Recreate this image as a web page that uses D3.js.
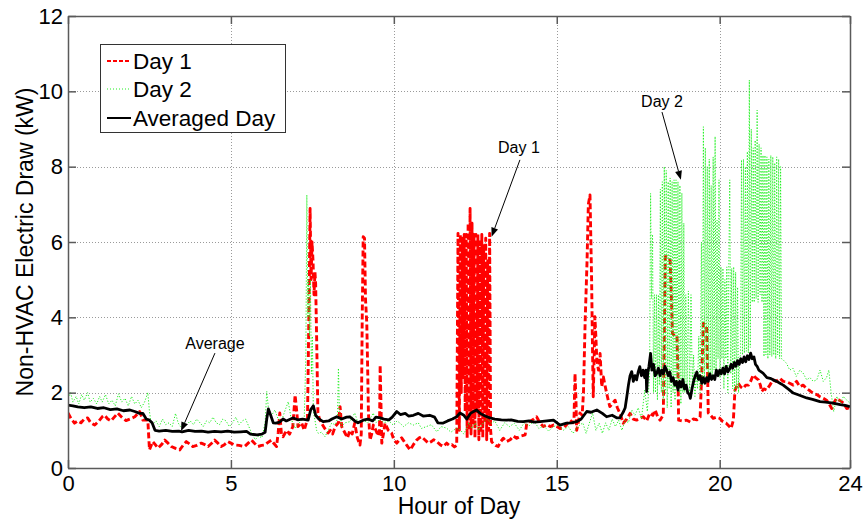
<!DOCTYPE html>
<html>
<head>
<meta charset="utf-8">
<script src="https://cdn.jsdelivr.net/npm/d3@7/dist/d3.min.js"></script>
<style>
  html, body { margin: 0; padding: 0; background: #fff; }
  svg { display: block; font-family: "Liberation Sans", Arial, sans-serif; }
</style>
</head>
<body>
<svg id="chart" width="866" height="522"></svg>
<script>
// Axis ticks
const xTicks = [0, 5, 10, 15, 20, 24];
const yTicks = [0, 2, 4, 6, 8, 10, 12];
const seriesNames = ["Day 1", "Day 2", "Averaged Day"];

// Day 1 non-HVAC draw, [hour, kW]
const day1 = [
  [0,1.46],[0.1,1.3],[0.2,1.19],[0.3,1.25],[0.4,1.2],[0.5,1.3],[0.6,1.33],[0.7,1.2],[0.82,1.14],[0.95,1.25],
  [1.05,1.36],[1.12,1.4],[1.22,1.3],[1.32,1.25],[1.42,1.35],[1.53,1.46],[1.65,1.35],[1.78,1.26],[1.9,1.3],[2.05,1.36],
  [2.2,1.5],[2.3,1.27],[2.45,1.27],[2.5,0.48],[2.6,0.7],[2.68,0.62],[2.76,0.53],[2.87,0.62],[2.97,0.74],[3.07,0.66],
  [3.17,0.57],[3.3,0.52],[3.43,0.48],[3.53,0.6],[3.63,0.7],[3.73,0.64],[3.83,0.57],[3.95,0.6],[4.09,0.66],[4.2,0.62],
  [4.3,0.57],[4.4,0.65],[4.5,0.74],[4.6,0.66],[4.7,0.57],[4.8,0.62],[4.91,0.7],[5.0,0.66],[5.11,0.61],[5.25,0.6],
  [5.42,0.57],[5.53,0.66],[5.63,0.74],[5.73,0.65],[5.83,0.57],[5.94,0.6],[6.04,0.61],[6.14,0.68],[6.24,0.74],[6.32,0.65],
  [6.4,0.57],[6.45,0.93],[6.5,1.46],[6.55,0.9],[6.6,0.83],[6.71,1.0],[6.8,0.9],[6.9,1.1],[6.97,1.94],[7.02,1.5],
  [7.06,1.1],[7.17,1.2],[7.25,1.0],[7.35,1.3],[7.4,4.5],[7.43,6.89],[7.46,5.0],[7.49,6.0],[7.52,5.5],[7.55,4.6],
  [7.58,5.2],[7.6,4.9],[7.63,3.5],[7.67,1.46],[7.72,1.3],[7.78,1.19],[7.88,1.05],[7.98,0.93],[8.05,1.0],[8.12,0.9],
  [8.2,1.1],[8.3,1.2],[8.35,1.63],[8.4,1.1],[8.5,0.93],[8.58,0.8],[8.65,1.0],[8.72,0.9],[8.8,1.19],[8.88,0.8],
  [8.96,0.61],[9.0,0.9],[9.03,4.0],[9.06,6.14],[9.1,6.1],[9.13,4.5],[9.17,3.84],[9.2,2.5],[9.22,1.46],[9.27,0.74],
  [9.32,0.9],[9.37,1.14],[9.45,1.0],[9.52,0.85],[9.56,1.0],[9.58,2.73],[9.61,1.5],[9.63,0.66],[9.68,0.9],[9.73,1.19],
  [9.83,1.0],[9.93,0.93],[10.0,0.75],[10.09,0.66],[10.17,0.75],[10.24,0.8],[10.32,0.7],[10.4,0.6],[10.5,0.48],[10.6,0.62],
  [10.7,0.74],[10.78,0.8],[10.85,0.83],[10.95,0.75],[11.06,0.66],[11.15,0.7],[11.22,0.75],[11.32,0.7],[11.42,0.62],[11.52,0.57],
  [11.62,0.66],[11.7,0.6],[11.78,0.62],[11.86,0.56],[11.93,0.6],[11.97,6.23],[12.01,1.0],[12.04,6.2],[12.07,2.0],[12.1,6.1],
  [12.13,2.4],[12.16,6.2],[12.19,1.5],[12.22,6.2],[12.25,0.8],[12.28,6.5],[12.31,1.0],[12.34,6.89],[12.37,0.9],[12.4,6.5],
  [12.43,1.2],[12.46,6.2],[12.49,0.8],[12.52,6.2],[12.55,1.5],[12.58,6.2],[12.61,0.75],[12.64,6.0],[12.67,1.0],[12.7,6.2],
  [12.73,0.8],[12.76,5.9],[12.79,1.2],[12.82,6.1],[12.85,0.75],[12.88,5.5],[12.91,1.0],[12.94,6.23],[12.97,1.0],[13.0,0.7],
  [13.05,0.65],[13.12,0.6],[13.2,0.57],[13.28,0.7],[13.36,0.79],[13.45,0.7],[13.57,0.75],[13.67,0.85],[13.77,0.79],[13.9,0.85],
  [14.03,0.88],[14.08,1.19],[14.2,1.25],[14.3,1.3],[14.38,1.36],[14.48,1.2],[14.59,1.1],[14.7,1.15],[14.8,1.1],[14.9,1.14],
  [15.0,1.1],[15.1,1.05],[15.2,1.06],[15.3,1.15],[15.41,1.27],[15.5,1.2],[15.53,1.3],[15.56,2.51],[15.59,1.8],[15.61,1.0],
  [15.66,1.2],[15.71,1.46],[15.78,1.4],[15.82,2.0],[15.87,3.84],[15.93,5.5],[15.97,7.0],[16.02,7.25],[16.07,4.99],[16.1,3.0],
  [16.12,1.89],[16.15,3.0],[16.17,4.02],[16.2,3.5],[16.23,2.87],[16.28,2.6],[16.33,3.04],[16.38,2.16],[16.43,2.42],[16.48,2.2],
  [16.53,1.99],[16.58,1.8],[16.63,1.63],[16.7,1.7],[16.79,1.8],[16.86,1.6],[16.94,1.45],[17.04,1.19],[17.15,1.3],[17.25,1.45],
  [17.35,1.3],[17.45,1.27],[17.55,1.32],[17.66,1.36],[17.76,1.25],[17.86,1.46],[17.95,1.4],[18.02,1.54],[18.1,1.35],[18.17,1.27],
  [18.27,1.41],[18.3,3.5],[18.33,5.61],[18.4,5.61],[18.45,5.55],[18.48,5.52],[18.52,4.5],[18.55,3.58],[18.62,3.5],[18.69,3.5],
  [18.72,2.5],[18.74,1.27],[18.85,1.25],[18.99,1.27],[19.1,1.22],[19.19,1.3],[19.3,1.28],[19.4,1.35],[19.45,2.5],[19.5,3.84],
  [19.56,3.8],[19.6,3.75],[19.63,2.5],[19.65,1.46],[19.72,1.4],[19.8,1.32],[19.9,1.35],[20.0,1.32],[20.1,1.23],[20.2,1.19],
  [20.3,1.1],[20.35,1.05],[20.42,1.27],[20.47,2.07],[20.57,2.25],[20.65,2.15],[20.72,2.11],[20.8,2.2],[20.88,2.2],[20.95,2.3],
  [21.03,2.47],[21.1,2.4],[21.19,2.34],[21.25,2.2],[21.29,2.03],[21.36,2.1],[21.44,2.07],[21.54,2.2],[21.64,2.34],[21.74,2.3],
  [21.85,2.38],[21.95,2.3],[22.05,2.29],[22.15,2.25],[22.26,2.2],[22.36,2.3],[22.46,2.16],[22.56,2.2],[22.67,2.11],[22.77,2.05],
  [22.87,1.98],[22.98,1.95],[23.08,1.89],[23.18,1.85],[23.28,1.8],[23.36,1.7],[23.44,1.58],[23.52,1.75],[23.59,1.85],[23.67,1.8],
  [23.75,1.76],[23.82,1.7],[23.9,1.58],[24.0,1.6]
];

// Day 2 non-HVAC draw, [hour, kW]
const day2 = [
  [0,1.85],[0.08,2.0],[0.15,1.75],[0.25,1.9],[0.33,1.7],[0.42,1.95],[0.5,1.8],[0.6,2.0],[0.68,1.75],[0.78,1.85],
  [0.88,1.7],[0.97,1.9],[1.05,1.75],[1.15,1.95],[1.25,1.7],[1.35,1.8],[1.45,1.65],[1.55,1.97],[1.65,1.75],[1.75,1.85],
  [1.85,1.65],[1.95,1.9],[2.05,1.7],[2.15,1.8],[2.25,1.6],[2.35,1.75],[2.45,2.0],[2.5,1.5],[2.55,1.2],[2.6,1.15],
  [2.7,1.25],[2.8,1.1],[2.9,1.3],[3.0,1.15],[3.1,1.2],[3.2,1.1],[3.3,1.45],[3.38,1.2],[3.45,1.1],[3.55,1.2],
  [3.65,1.15],[3.75,1.25],[3.85,1.15],[3.95,1.3],[4.05,1.2],[4.15,1.1],[4.25,1.25],[4.35,1.2],[4.45,1.35],[4.55,1.2],
  [4.65,1.15],[4.75,1.3],[4.85,1.25],[4.95,1.1],[5.05,1.2],[5.15,1.35],[5.25,1.15],[5.35,1.25],[5.45,1.3],[5.55,1.1],
  [5.65,0.9],[5.75,0.75],[5.85,0.85],[5.95,0.8],[6.05,1.2],[6.1,2.03],[6.15,1.6],[6.25,1.4],[6.35,1.54],[6.45,1.3],
  [6.56,1.27],[6.65,1.5],[6.76,1.76],[6.85,1.3],[6.97,1.05],[7.05,1.15],[7.17,1.27],[7.25,1.3],[7.3,3.0],[7.33,7.25],
  [7.36,4.0],[7.38,4.99],[7.41,3.5],[7.44,5.0],[7.47,2.5],[7.5,3.5],[7.53,1.5],[7.58,1.27],[7.63,1.0],[7.68,0.92],
  [7.78,0.95],[7.89,0.83],[7.98,1.0],[8.09,1.19],[8.2,1.15],[8.27,1.3],[8.3,2.65],[8.33,1.5],[8.4,1.1],[8.5,1.2],
  [8.65,1.23],[8.8,1.46],[8.9,1.2],[9.06,1.27],[9.2,1.2],[9.37,1.46],[9.45,1.2],[9.58,1.3],[9.7,1.2],[9.85,1.25],
  [9.98,1.14],[10.1,1.25],[10.19,1.19],[10.3,1.1],[10.45,1.2],[10.6,1.14],[10.75,1.2],[10.85,1.05],[11.0,1.1],[11.15,1.15],
  [11.32,0.96],[11.45,1.1],[11.62,1.06],[11.75,0.95],[11.93,1.06],[12.05,1.0],[12.15,0.9],[12.3,1.2],[12.4,1.05],[12.5,1.2],
  [12.6,1.0],[12.7,1.15],[12.85,1.3],[13.0,1.19],[13.1,1.25],[13.25,1.0],[13.4,1.2],[13.55,1.1],[13.7,1.19],[13.85,1.0],
  [14.0,1.2],[14.15,1.12],[14.3,1.25],[14.45,1.05],[14.6,1.12],[14.75,0.98],[14.9,1.1],[15.05,1.15],[15.2,1.0],[15.35,1.1],
  [15.5,0.92],[15.65,1.1],[15.8,1.2],[15.9,0.92],[16.0,1.19],[16.1,1.46],[16.2,1.0],[16.3,1.19],[16.4,0.92],[16.5,1.2],
  [16.6,1.0],[16.7,1.3],[16.8,1.1],[16.9,1.27],[17.0,1.0],[17.1,1.27],[17.2,1.2],[17.3,1.54],[17.4,1.4],[17.5,1.6],
  [17.6,1.3],[17.7,2.07],[17.78,1.5],[17.85,2.5],[17.88,7.29],[17.91,4.5],[17.94,6.2],[17.97,2.0],[18.0,4.6],[18.03,2.0],
  [18.06,4.6],[18.09,1.8],[18.12,4.6],[18.15,2.2],[18.18,7.4],[18.21,2.0],[18.24,7.6],[18.27,1.8],[18.3,8.0],[18.33,2.0],
  [18.36,7.9],[18.39,1.6],[18.42,7.6],[18.45,2.1],[18.48,7.7],[18.51,1.6],[18.54,7.6],[18.57,2.0],[18.6,7.65],[18.63,1.8],
  [18.66,7.65],[18.69,2.2],[18.72,7.6],[18.75,2.0],[18.78,7.5],[18.81,1.7],[18.84,7.3],[18.87,2.0],[18.9,6.5],[18.93,2.0],
  [18.96,4.6],[19.0,2.1],[19.04,4.7],[19.08,1.9],[19.12,4.6],[19.16,2.2],[19.2,3.0],[19.24,1.9],[19.28,2.5],[19.32,2.1],
  [19.36,3.5],[19.4,2.0],[19.44,6.0],[19.47,2.2],[19.5,9.06],[19.53,2.4],[19.56,8.5],[19.59,2.6],[19.62,8.0],[19.65,2.3],
  [19.68,8.2],[19.71,2.5],[19.74,7.5],[19.77,2.4],[19.8,8.26],[19.83,2.6],[19.86,8.8],[19.89,2.5],[19.92,6.58],[19.95,2.9],
  [19.98,7.65],[20.01,2.4],[20.04,5.34],[20.07,2.9],[20.1,5.3],[20.13,2.1],[20.16,5.0],[20.19,2.9],[20.22,5.34],[20.25,2.0],
  [20.28,5.3],[20.31,7.65],[20.34,2.5],[20.37,5.3],[20.4,2.1],[20.43,5.34],[20.46,2.0],[20.49,5.2],[20.52,2.1],[20.55,4.8],
  [20.58,2.0],[20.61,2.9],[20.64,3.0],[20.67,8.18],[20.7,3.0],[20.73,8.2],[20.76,3.05],[20.79,8.0],[20.82,3.1],[20.85,8.4],
  [20.88,3.05],[20.91,10.3],[20.94,3.2],[20.97,9.0],[21.0,4.4],[21.03,8.5],[21.06,4.4],[21.09,8.7],[21.12,4.5],[21.15,9.5],
  [21.18,4.4],[21.21,8.6],[21.24,4.6],[21.27,8.5],[21.3,4.4],[21.33,8.3],[21.36,2.96],[21.39,8.3],[21.42,3.0],[21.45,8.26],
  [21.48,2.9],[21.51,8.2],[21.54,3.0],[21.57,8.3],[21.6,2.96],[21.63,8.26],[21.66,3.0],[21.69,8.1],[21.72,2.9],[21.75,8.26],
  [21.78,3.0],[21.81,8.2],[21.84,2.9],[21.87,8.0],[21.9,2.9],[21.95,2.87],[22.05,2.78],[22.15,2.6],[22.25,2.65],[22.35,2.43],
  [22.46,2.6],[22.56,2.52],[22.67,2.34],[22.77,2.4],[22.87,2.3],[22.98,2.34],[23.08,2.6],[23.18,2.3],[23.28,2.4],[23.35,2.6],
  [23.42,2.0],[23.5,1.5],[23.6,1.9],[23.7,1.72],[23.8,1.9],[23.9,1.8],[24.0,1.72]
];

// Average of the two days, [hour, kW]
const averaged = [
  [0,1.67],[0.15,1.65],[0.3,1.62],[0.5,1.6],[0.7,1.62],[0.9,1.58],[1.1,1.6],[1.3,1.55],[1.5,1.57],[1.7,1.52],
  [1.9,1.54],[2.05,1.5],[2.2,1.45],[2.3,1.45],[2.4,1.3],[2.5,1.27],[2.58,1.2],[2.67,1.0],[2.8,0.98],[3.0,1.0],
  [3.2,0.97],[3.4,0.98],[3.5,0.96],[3.7,1.0],[3.9,0.97],[4.1,0.98],[4.3,0.95],[4.5,0.97],[4.7,0.96],[4.9,0.98],
  [5.1,0.95],[5.3,0.96],[5.48,0.97],[5.6,0.9],[5.8,0.88],[5.95,0.9],[6.05,0.95],[6.1,1.3],[6.15,1.57],[6.22,1.4],
  [6.3,1.2],[6.38,1.19],[6.5,1.22],[6.6,1.3],[6.7,1.25],[6.9,1.33],[7.05,1.28],[7.2,1.3],[7.37,1.27],[7.45,1.55],
  [7.53,1.65],[7.6,1.4],[7.7,1.3],[7.83,1.23],[8.0,1.25],[8.1,1.3],[8.25,1.36],[8.4,1.3],[8.55,1.35],[8.65,1.36],
  [8.8,1.25],[8.9,1.2],[9.06,1.27],[9.2,1.3],[9.35,1.25],[9.45,1.35],[9.58,1.33],[9.7,1.3],[9.85,1.28],[9.95,1.35],
  [10.09,1.5],[10.2,1.42],[10.35,1.45],[10.45,1.38],[10.6,1.4],[10.75,1.45],[10.9,1.38],[11.1,1.4],[11.25,1.35],[11.35,1.2],
  [11.5,1.19],[11.65,1.25],[11.8,1.3],[11.93,1.36],[12.03,1.46],[12.15,1.4],[12.24,1.3],[12.35,1.45],[12.45,1.5],[12.54,1.54],
  [12.65,1.45],[12.8,1.38],[12.95,1.33],[13.1,1.3],[13.3,1.28],[13.46,1.27],[13.6,1.28],[13.8,1.24],[13.97,1.23],[14.15,1.25],
  [14.3,1.22],[14.49,1.23],[14.7,1.25],[14.9,1.27],[15.1,1.14],[15.3,1.19],[15.45,1.2],[15.61,1.23],[15.75,1.3],[15.92,1.5],
  [16.05,1.48],[16.23,1.54],[16.4,1.45],[16.53,1.36],[16.7,1.4],[16.85,1.33],[16.94,1.33],[17.05,1.5],[17.1,1.6],[17.15,1.89],
  [17.2,2.2],[17.25,2.45],[17.3,2.56],[17.35,2.3],[17.4,2.45],[17.45,2.34],[17.5,2.55],[17.55,2.69],[17.6,2.45],[17.65,2.6],
  [17.7,2.4],[17.74,2.6],[17.76,2.03],[17.79,2.5],[17.83,2.7],[17.88,3.04],[17.92,2.6],[17.97,2.75],[18.02,2.45],[18.07,2.52],
  [18.12,2.65],[18.17,2.45],[18.22,2.6],[18.27,2.5],[18.32,2.7],[18.37,2.6],[18.42,2.45],[18.47,2.55],[18.52,2.3],[18.57,2.4],
  [18.62,2.2],[18.67,2.3],[18.72,2.07],[18.77,2.3],[18.82,2.15],[18.87,2.35],[18.92,2.1],[18.97,2.2],[19.02,2.0],[19.07,1.95],
  [19.1,1.85],[19.15,2.1],[19.2,2.3],[19.25,2.45],[19.3,2.55],[19.35,2.35],[19.4,2.45],[19.45,2.25],[19.5,2.4],[19.55,2.25],
  [19.6,2.4],[19.65,2.3],[19.7,2.5],[19.75,2.35],[19.8,2.45],[19.85,2.35],[19.9,2.6],[19.95,2.45],[20.0,2.6],[20.05,2.5],
  [20.1,2.65],[20.15,2.5],[20.2,2.7],[20.25,2.55],[20.3,2.62],[20.35,2.75],[20.4,2.65],[20.45,2.8],[20.5,2.7],[20.55,2.85],
  [20.6,2.75],[20.65,2.9],[20.7,2.8],[20.75,2.95],[20.8,2.82],[20.85,2.98],[20.9,2.88],[20.95,3.05],[21.0,2.9],[21.05,2.95],
  [21.1,2.75],[21.15,2.7],[21.2,2.6],[21.33,2.52],[21.45,2.4],[21.55,2.38],[21.64,2.34],[21.75,2.3],[21.85,2.25],[21.95,2.2],
  [22.1,2.1],[22.26,1.99],[22.45,1.93],[22.67,1.86],[22.85,1.82],[23.08,1.76],[23.25,1.75],[23.48,1.72],[23.7,1.68],[23.85,1.66],
  [24.0,1.63]
];

// Callouts: label, arrow tail and arrow head in [hour, kW]
const callouts = [
  { label: "Average", text: [4.51, 3.32], tail: [4.51, 3.05], head: [3.47, 0.98] },
  { label: "Day 1",   text: [13.84, 8.5], tail: [13.87, 8.18], head: [13.0, 6.14] },
  { label: "Day 2",   text: [18.23, 9.72], tail: [18.23, 9.45], head: [18.81, 7.65] }
];

const svg = d3.select("#chart");
const W = 866, H = 522;
const plot = { left: 68, top: 16, right: 850, bottom: 468 };

svg.append("rect").attr("width", W).attr("height", H).attr("fill", "#fff");

const x = d3.scaleLinear().domain([0, 24]).range([plot.left, plot.right]);
const y = d3.scaleLinear().domain([0, 12]).range([plot.bottom, plot.top]);

// Dotted grid
const grid = svg.append("g").attr("stroke", "#9a9a9a").attr("stroke-width", 1)
  .attr("stroke-dasharray", "1,2");
grid.selectAll("line.gx").data(xTicks.filter(t => t > 0 && t < 24)).join("line")
  .attr("x1", d => Math.round(x(d)) + 0.5).attr("x2", d => Math.round(x(d)) + 0.5)
  .attr("y1", plot.top).attr("y2", plot.bottom);
grid.selectAll("line.gy").data(yTicks.filter(t => t > 0 && t < 12)).join("line")
  .attr("y1", d => Math.round(y(d)) + 0.5).attr("y2", d => Math.round(y(d)) + 0.5)
  .attr("x1", plot.left).attr("x2", plot.right);

// Series
svg.append("defs").append("clipPath").attr("id", "plotClip")
  .append("rect").attr("x", plot.left).attr("y", plot.top)
  .attr("width", plot.right - plot.left).attr("height", plot.bottom - plot.top);

const line = d3.line().x(d => x(d[0])).y(d => y(d[1]));
const series = [
  { name: seriesNames[0], data: day1, color: "#ff0000", width: 2.9, dash: "6,3" },
  { name: seriesNames[1], data: day2, color: "#22f022", width: 1, dash: "1.2,1.8" },
  { name: seriesNames[2], data: averaged, color: "#000000", width: 2.8, dash: null }
];
const lines = svg.append("g").attr("clip-path", "url(#plotClip)");
series.forEach(s => {
  lines.append("path").datum(s.data)
    .attr("d", line).attr("fill", "none")
    .attr("stroke", s.color).attr("stroke-width", s.width)
    .attr("stroke-dasharray", s.dash).attr("stroke-linejoin", "round");
});

// Axes with inward ticks on all four sides
const axisColor = "#5a5a5a";
const fmt = d3.format("d");
const gB = svg.append("g").attr("transform", `translate(0,${plot.bottom})`)
  .call(d3.axisBottom(x).tickValues(xTicks).tickFormat(fmt).tickSize(-8).tickSizeOuter(0).tickPadding(7));
const gL = svg.append("g").attr("transform", `translate(${plot.left},0)`)
  .call(d3.axisLeft(y).tickValues(yTicks).tickFormat(fmt).tickSize(-8).tickSizeOuter(0).tickPadding(5));
const gT = svg.append("g").attr("transform", `translate(0,${plot.top})`)
  .call(d3.axisTop(x).tickValues(xTicks).tickFormat("").tickSize(-8).tickSizeOuter(0));
const gR = svg.append("g").attr("transform", `translate(${plot.right},0)`)
  .call(d3.axisRight(y).tickValues(yTicks).tickFormat("").tickSize(-8).tickSizeOuter(0));
[gB, gL, gT, gR].forEach(g => {
  g.select(".domain").attr("stroke", axisColor).attr("stroke-width", 1.5);
  g.selectAll(".tick line").attr("stroke", axisColor).attr("stroke-width", 1.5);
  g.selectAll(".tick text").attr("fill", "#000").attr("font-size", 22)
    .attr("font-family", "'Liberation Sans', Arial, sans-serif");
});

// Axis titles
svg.append("text").attr("x", (plot.left + plot.right) / 2).attr("y", 514)
  .attr("text-anchor", "middle").attr("font-size", 23).text("Hour of Day");
svg.append("text").attr("transform", `translate(33,${(plot.top + plot.bottom) / 2}) rotate(-90)`)
  .attr("text-anchor", "middle").attr("font-size", 23).text("Non-HVAC Electric Draw (kW)");

// Callouts with arrows
const ann = svg.append("g");
callouts.forEach(c => {
  const x1 = x(c.tail[0]), y1 = y(c.tail[1]), x2 = x(c.head[0]), y2 = y(c.head[1]);
  const ang = Math.atan2(y2 - y1, x2 - x1), len = 9, half = 3.5;
  const bx = x2 - len * Math.cos(ang), by = y2 - len * Math.sin(ang);
  ann.append("line").attr("x1", x1).attr("y1", y1).attr("x2", bx).attr("y2", by)
    .attr("stroke", "#000").attr("stroke-width", 1);
  ann.append("path")
    .attr("d", `M${x2},${y2}L${bx + half * Math.sin(ang)},${by - half * Math.cos(ang)}L${bx - half * Math.sin(ang)},${by + half * Math.cos(ang)}Z`)
    .attr("fill", "#000");
  ann.append("text").attr("x", x(c.text[0])).attr("y", y(c.text[1]))
    .attr("text-anchor", "middle").attr("dy", "0.35em").attr("font-size", 16).text(c.label);
});

// Legend
const lg = svg.append("g");
lg.append("rect").attr("x", 100.5).attr("y", 44.5).attr("width", 185).attr("height", 88)
  .attr("fill", "#fff").attr("stroke", "#333").attr("stroke-width", 1);
const rowY = [61, 89, 118];
series.forEach((s, i) => {
  lg.append("line").attr("x1", 107).attr("x2", 131).attr("y1", rowY[i]).attr("y2", rowY[i])
    .attr("stroke", s.color).attr("stroke-width", s.width === 1 ? 1.2 : 2)
    .attr("stroke-dasharray", s.dash ? (s.width === 1 ? "1,2" : "4,2") : null);
  lg.append("text").attr("x", 133).attr("y", rowY[i]).attr("dy", "0.36em")
    .attr("font-size", 22.5).text(s.name);
});
</script>
</body>
</html>
